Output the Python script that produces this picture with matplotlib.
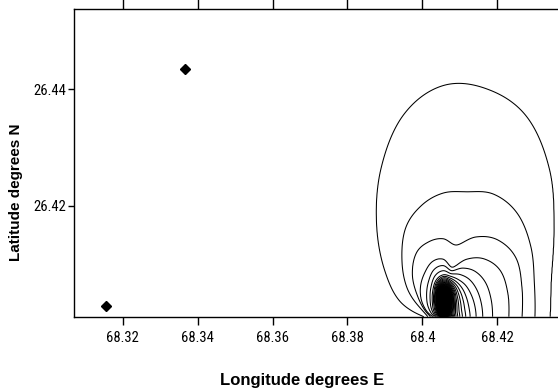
import numpy as np
import matplotlib
matplotlib.use("Agg")
import matplotlib.pyplot as plt

# ---- data ----
x_ticks = [68.32, 68.34, 68.36, 68.38, 68.40, 68.42]
x_tick_labels = ["68.32", "68.34", "68.36", "68.38", "68.4", "68.42"]
y_ticks = [26.42, 26.44]
y_tick_labels = ["26.42", "26.44"]

site_lon = [68.3366, 68.3155]
site_lat = [26.4435, 26.4028]

source_lon = 68.4055
source_lat = 26.4009

# contour radii (km from the source) along bearings (deg from north)
bearing_deg = [-90, -75, -60, -45, -30, -15, 0, 15, 30, 45, 60, 75, 90]
radius_level1 = [0.50, 1.20, 1.79, 2.49, 3.28, 4.00, 4.41, 4.50, 4.42, 3.99, 3.40, 2.98, 2.84]
radius_level2 = [0.40, 0.61, 1.10, 1.54, 1.97, 2.20, 2.36, 2.47, 2.70, 2.79, 2.69, 2.51, 2.44]
radius_level3 = [0.33, 0.50, 0.77, 1.15, 1.41, 1.48, 1.49, 1.42, 1.76, 2.07, 2.24, 2.17, 2.10]
radius_level4 = [0.27, 0.46, 0.67, 0.84, 0.97, 1.09, 1.10, 0.98, 1.27, 1.56, 1.76, 1.78, 1.75]
radius_level7 = [0.17, 0.22, 0.30, 0.40, 0.55, 0.72, 0.80, 0.80, 0.82, 0.85, 0.86, 0.87, 0.88]
# how fast the innermost contours close in on the source, per bearing
inner_shrink = [1.5, 1.5, 1.4, 1.1, 0.8, 0.45, 0.3, 0.35, 0.6, 1.0, 1.3, 1.5, 1.5]

contour_levels = np.arange(1, 61)

KM_PER_DEG_LON = 99.4
KM_PER_DEG_LAT = 111.0


def smooth_interp(x, xp, fp):
    xp = np.asarray(xp, float); fp = np.asarray(fp, float)
    n = len(xp); h = xp[1] - xp[0]
    idx = np.clip(np.floor((x - xp[0]) / h).astype(int), 0, n - 2)
    t = (x - xp[idx]) / h
    p0 = fp[np.clip(idx - 1, 0, n - 1)]; p1 = fp[idx]
    p2 = fp[idx + 1]; p3 = fp[np.clip(idx + 2, 0, n - 1)]
    return 0.5 * (2 * p1 + (-p0 + p2) * t + (2 * p0 - 5 * p1 + 4 * p2 - p3) * t**2
                  + (-p0 + 3 * p1 - 3 * p2 + p3) * t**3)


def build_field(lon, lat):
    X = (lon - source_lon) * KM_PER_DEG_LON
    Y = np.maximum((lat - source_lat) * KM_PER_DEG_LAT, 0.0)
    r = np.sqrt(X**2 + Y**2) + 1e-4
    phi = np.clip(np.degrees(np.arctan2(X, Y)), -90, 90)
    known = [(1, radius_level1), (2, radius_level2), (3, radius_level3),
             (4, radius_level4), (7, radius_level7)]
    R = [(lv, smooth_interp(phi, bearing_deg, rl)) for lv, rl in known]
    g = smooth_interp(phi, bearing_deg, inner_shrink)
    z = R[0][1] / r
    for (lv_a, ra), (lv_b, rb) in zip(R[:-1], R[1:]):
        seg = (r < ra) & (r >= rb)
        frac = (1 / r - 1 / ra) / (1 / rb - 1 / ra)
        z = np.where(seg, lv_a + (lv_b - lv_a) * frac, z)
    lv_in, r_in = R[-1]
    z = np.where(r < r_in, lv_in * (r_in / r) ** (1 / g), z)
    return z


W, H = 558, 389
fig = plt.figure(figsize=(W / 100, H / 100), dpi=100)
ax = fig.add_axes([73.7 / W, (H - 316.7) / H, (560 - 73.7) / W, (316.7 - 8.9) / H])
xl = (68.32 - (122.7 - 73.7) / 3746.0, 68.32 + (560 - 122.7) / 3746.0)
yl = (26.44 - (316.7 - 89.3) / 5820.0, 26.44 + (89.3 - 8.9) / 5820.0)

lon = np.linspace(xl[0], xl[1], 1100)
lat = np.linspace(yl[0], yl[1], 900)
LON, LAT = np.meshgrid(lon, lat)
Z = build_field(LON, LAT)
ax.contourf(LON, LAT, Z, levels=[contour_levels[-1], Z.max() + 1], colors="black")
ax.contour(LON, LAT, Z, levels=contour_levels, colors="black", linewidths=0.75)
ax.plot(site_lon, site_lat, "D", color="black", markersize=5)

ax.set_xlim(xl); ax.set_ylim(yl)
ax.set_xticks(x_ticks); ax.set_xticklabels(x_tick_labels)
ax.set_yticks(y_ticks); ax.set_yticklabels(y_tick_labels)
ax.spines["right"].set_visible(False)
for s in ["left", "bottom", "top"]:
    ax.spines[s].set_linewidth(1.0)
ax.tick_params(axis="x", direction="out", length=5.5, width=1.0, top=True, labeltop=False, pad=5)
ax.tick_params(axis="y", direction="out", length=4.5, width=1.0, pad=1)
for tk in ax.xaxis.get_major_ticks():
    tk.tick2line.set_markersize(7)
for t in ax.get_xticklabels() + ax.get_yticklabels():
    t.set_fontfamily(["Roboto Condensed", "Liberation Sans"])
    t.set_fontsize(10.5)
fig.text(302 / W, (H - 385) / H, "Longitude degrees E", ha="center", va="baseline",
         fontsize=12, fontweight="bold", family=["Liberation Sans", "DejaVu Sans"])
fig.text(16.5 / W, (H - 192.5) / H, "Latitude degrees N", ha="center", va="center", rotation=90,
         fontsize=11, fontweight="bold", family=["Liberation Sans", "DejaVu Sans"])
fig.savefig("out.png", dpi=100)
